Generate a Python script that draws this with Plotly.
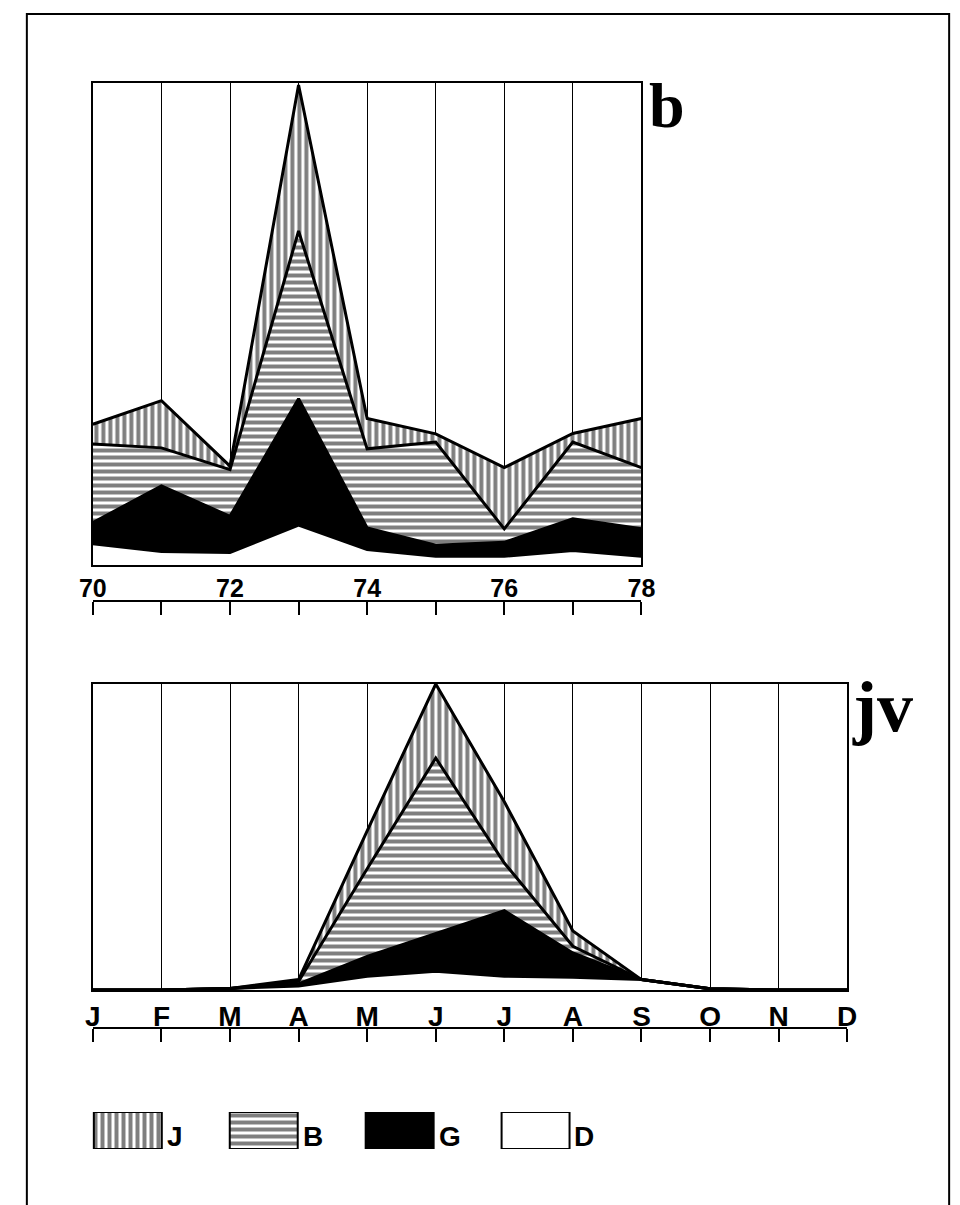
import plotly.graph_objects as go

W, H = 960, 1205

# ---------------- data ----------------
years = [70, 71, 72, 73, 74, 75, 76, 77, 78]
year_labels = ['70', '', '72', '', '74', '', '76', '', '78']
b_D = [4.4, 2.8, 2.6, 8.3, 3.2, 1.8, 1.8, 3.0, 1.8]
b_G = [4.4, 13.6, 7.5, 26.2, 4.5, 2.3, 2.9, 6.6, 5.7]
b_B = [16.3, 7.9, 9.7, 34.8, 16.4, 21.4, 2.8, 15.9, 12.7]
b_J = [4.1, 9.8, 0.7, 30.3, 6.3, 1.7, 12.7, 1.8, 10.2]

months = ['J', 'F', 'M', 'A', 'M', 'J', 'J', 'A', 'S', 'O', 'N', 'D']
jv_D = [0, 0, 0.5, 1.3, 4.5, 6.1, 4.5, 4.2, 3.4, 0.4, 0, 0]
jv_G = [0, 0, 0, 0.7, 6.5, 12.4, 21.4, 7.9, 0, 0, 0, 0]
jv_B = [0, 0, 0, 0.8, 28.6, 57.3, 15.6, 2.2, 0, 0, 0, 0]
jv_J = [0, 0, 0, 0.6, 12.4, 24.2, 20.0, 5.0, 0, 0, 0, 0]

legend_labels = ['J', 'B', 'G', 'D']

# ---------------- helpers ----------------
def px_x(x):
    return x / W

def px_y(y):
    return 1 - y / H

LINE = dict(color='black', width=3)
PAT = dict(fgcolor='black', bgcolor='white', size=7, solidity=0.57)

styles = {
    'D': dict(fillcolor='white'),
    'G': dict(fillcolor='black'),
    'B': dict(fillcolor='white', fillpattern=dict(shape='-', **PAT)),
    'J': dict(fillcolor='white', fillpattern=dict(shape='|', **PAT)),
}

fig = go.Figure()

def add_stack(xs, series, xa, ya, group):
    for name, vals in series:
        fig.add_trace(go.Scatter(
            x=xs, y=vals, name=name, mode='lines', line=LINE,
            stackgroup=group, xaxis=xa, yaxis=ya, hoverinfo='skip',
            showlegend=False, **styles[name]))

add_stack(years, [('D', b_D), ('G', b_G), ('B', b_B), ('J', b_J)], 'x', 'y', 'b')
month_pos = list(range(len(months)))
add_stack(month_pos, [('D', jv_D), ('G', jv_G), ('B', jv_B), ('J', jv_J)], 'x2', 'y2', 'jv')

# dummy traces to bind the lower tick axes
fig.add_trace(go.Scatter(x=years, y=[None] * len(years), xaxis='x3', yaxis='y',
                         mode='lines', showlegend=False, hoverinfo='skip'))
fig.add_trace(go.Scatter(x=month_pos, y=[None] * len(month_pos), xaxis='x4', yaxis='y2',
                         mode='lines', showlegend=False, hoverinfo='skip'))

# legend swatches as horizontal bars
leg_styles = [
    dict(color='white', pattern=dict(shape='|', **PAT)),
    dict(color='white', pattern=dict(shape='-', **PAT)),
    dict(color='black'),
    dict(color='white'),
]
box_w = 70
leg_x0 = 74
leg_step = 140
for i, (lab, st) in enumerate(zip(legend_labels, leg_styles)):
    fig.add_trace(go.Bar(
        y=[0.5], x=[box_w], base=[leg_x0 + i * leg_step], orientation='h', width=1,
        marker=dict(line=dict(color='black', width=2), **st),
        xaxis='x5', yaxis='y5', showlegend=False, hoverinfo='skip'))

# ---------------- layout ----------------
TOP = (75, 557)
BOT = (676, 982)
yearfont = dict(family='Liberation Sans', size=25, color='black', weight='bold')
monthfont = dict(family='Liberation Sans', size=28, color='black', weight='bold')

frame = dict(showline=True, mirror=True, linecolor='black', linewidth=2,
             zeroline=False, fixedrange=True)

lower_axis = dict(anchor='free', side='bottom', showticklabels=False,
                  showline=True, linecolor='black', linewidth=1.5,
                  ticks='outside', ticklen=13, tickwidth=1.5, tickcolor='black',
                  showgrid=False, zeroline=False)

fig.update_layout(
    width=W, height=H, margin=dict(l=0, r=0, t=0, b=0),
    paper_bgcolor='white', plot_bgcolor='white', showlegend=False,
    barmode='overlay',
    xaxis=dict(domain=[px_x(73), px_x(638)], range=[70, 78], anchor='y',
               tickvals=years, ticktext=year_labels, tickfont=yearfont,
               showgrid=True, gridcolor='black', gridwidth=1, ticks='', ticklen=0,
               ticklabelstandoff=0, **frame),
    yaxis=dict(domain=[px_y(TOP[1]), px_y(TOP[0])], range=[0, 100], anchor='x',
               showgrid=False, showticklabels=False, ticks='', **frame),
    xaxis2=dict(domain=[px_x(73), px_x(850)], range=[0, 11], anchor='y2',
                tickvals=month_pos, ticktext=months, tickfont=monthfont,
                showgrid=True, gridcolor='black', gridwidth=1, ticks='', ticklen=0,
                ticklabelstandoff=0, **frame),
    yaxis2=dict(domain=[px_y(BOT[1]), px_y(BOT[0])], range=[0, 100], anchor='x2',
                showgrid=False, showticklabels=False, ticks='', **frame),
    xaxis3=dict(overlaying='x', position=px_y(593), range=[70, 78], tickvals=years,
                **lower_axis),
    xaxis4=dict(overlaying='x2', position=px_y(1020), range=[0, 11], tickvals=month_pos,
                **lower_axis),
    xaxis5=dict(domain=[0, 1], range=[0, W], anchor='y5', visible=False),
    yaxis5=dict(domain=[px_y(1141), px_y(1104)], range=[0, 1], anchor='x5', visible=False),
)

# legend labels
for i, lab in enumerate(legend_labels):
    fig.add_annotation(x=leg_x0 + i * leg_step + box_w + 3, y=0, xref='x5', yref='y5',
                       text=lab, showarrow=False, xanchor='left', yanchor='bottom',
                       yshift=-5,
                       font=dict(family='Liberation Sans', size=28, color='black', weight='bold'))

# panel labels
fig.add_annotation(x=px_x(644), y=px_y(97), xref='paper', yref='paper', text='b',
                   showarrow=False, xanchor='left', yanchor='middle',
                   font=dict(family='Liberation Serif', size=64, color='black', weight='bold'))
fig.add_annotation(x=px_x(853), y=px_y(699), xref='paper', yref='paper', text='jv',
                   showarrow=False, xanchor='left', yanchor='middle',
                   font=dict(family='Liberation Serif', size=72, color='black', weight='bold'))

# outer frame (open at the bottom)
fig.add_shape(type='path', xref='paper', yref='paper', layer='above',
              path=f'M {px_x(5)},{px_y(1205)} L {px_x(5)},{px_y(6)} L {px_x(955)},{px_y(6)} L {px_x(955)},{px_y(1205)}',
              line=dict(color='black', width=2))

fig.write_html('out.html')
